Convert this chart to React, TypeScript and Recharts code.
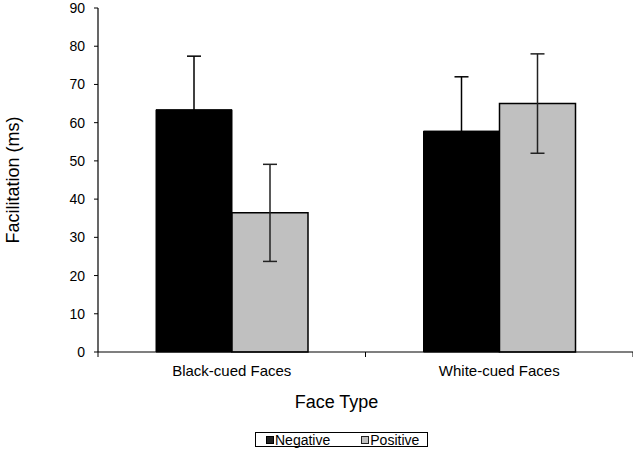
import React from "react";
import { BarChart, Bar, XAxis, YAxis, ErrorBar, Legend } from "recharts";

const categories = ["Black-cued Faces", "White-cued Faces"];
const negative = [63.4, 57.8];
const negativeErr = [14.0, 14.2];
const positive = [36.4, 65.0];
const positiveErr = [12.7, 13.0];
const yTicks = [0, 10, 20, 30, 40, 50, 60, 70, 80, 90];

const data = categories.map((name, i) => ({
  name,
  negative: negative[i],
  negativeErr: negativeErr[i],
  positive: positive[i],
  positiveErr: positiveErr[i],
}));

const FONT = "'Liberation Sans', Arial, sans-serif";

// category label plus the Excel-style tick marks on the category boundaries
const CategoryTick = (props: any) => {
  const { x, y, payload, index, visibleTicksCount } = props;
  const half = payload.offset || 0;
  const last = index === visibleTicksCount - 1;
  return (
    <g>
      <line x1={x - half} x2={x - half} y1={y} y2={y + 5} stroke="#000" />
      {last && <line x1={x + half} x2={x + half} y1={y} y2={y + 5} stroke="#000" />}
      <text x={x} y={y + 13} dy="0.71em" textAnchor="middle" fontSize={15} fontFamily={FONT} fill="#000">
        {payload.value}
      </text>
    </g>
  );
};

const LegendBox = () => (
  <div
    style={{
      display: "flex",
      alignItems: "center",
      border: "1px solid #000",
      padding: "0 0 0 10px",
      height: 15,
      fontFamily: FONT,
      fontSize: 14,
      color: "#000",
      background: "#fff",
      boxSizing: "border-box",
      width: 173,
    }}
  >
    <span style={{ width: 6, height: 6, background: "#222", border: "1px solid #000", marginRight: 1 }} />
    <span>Negative</span>
    <span style={{ width: 6, height: 6, background: "#c0c0c0", border: "1px solid #222", marginLeft: 31, marginRight: 1 }} />
    <span>Positive</span>
  </div>
);

export default function App() {
  return (
    <div style={{ position: "absolute", left: 0, top: 0, background: "#fff" }}>
      <BarChart
        width={633}
        height={451}
        data={data}
        margin={{ top: 8, right: 0, left: 0, bottom: 29 }}
        barGap={0}
        barSize={76}
      >
        <XAxis
          dataKey="name"
          height={70}
          tickLine={false}
          tickSize={0}
          tickMargin={0}
          axisLine={{ stroke: "#000", strokeWidth: 1.2 }}
          tick={<CategoryTick />}
          label={({ viewBox }: any) => (
            <text
              x={viewBox.x + viewBox.width / 2 - 29}
              y={viewBox.y + 56}
              textAnchor="middle"
              fontSize={18}
              fontFamily={FONT}
              fill="#000"
            >
              Face Type
            </text>
          )}
        />
        <YAxis
          width={98}
          domain={[0, 90]}
          ticks={yTicks}
          interval={0}
          tickSize={4}
          tickMargin={9}
          axisLine={{ stroke: "#000", strokeWidth: 1.2 }}
          tickLine={{ stroke: "#000" }}
          tick={{ fill: "#000", fontSize: 14, fontFamily: FONT }}
          label={{
            value: "Facilitation (ms)",
            angle: -90,
            position: "insideLeft",
            offset: 13,
            style: { textAnchor: "middle", fontSize: 18, fontFamily: FONT, fill: "#000" },
          }}
        />
        <Legend
          layout="horizontal"
          verticalAlign="middle"
          align="center"
          wrapperStyle={{ top: 432, left: 255, width: "auto" }}
          content={() => <LegendBox />}
        />
        <Bar dataKey="negative" name="Negative" fill="#000" stroke="#000" strokeWidth={1} isAnimationActive={false}>
          <ErrorBar dataKey="negativeErr" width={7} stroke="#000" strokeWidth={1.5} />
        </Bar>
        <Bar dataKey="positive" name="Positive" fill="#c0c0c0" stroke="#000" strokeWidth={1.5} isAnimationActive={false}>
          <ErrorBar dataKey="positiveErr" width={7} stroke="#222" strokeWidth={1.5} />
        </Bar>
      </BarChart>
    </div>
  );
}
